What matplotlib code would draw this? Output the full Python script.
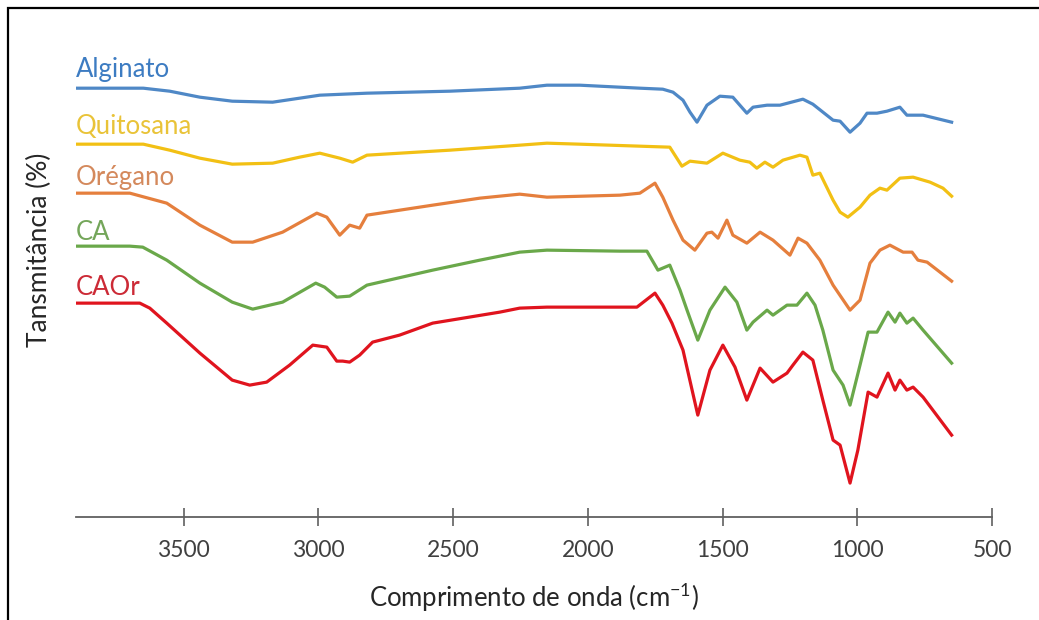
import matplotlib
matplotlib.use("Agg")
import matplotlib.pyplot as plt
from matplotlib.patches import Rectangle

plt.rcParams['font.family'] = ['Lato', 'DejaVu Sans']
plt.rcParams['mathtext.fontset'] = 'custom'
plt.rcParams['mathtext.rm'] = 'Lato'

# FTIR spectra (wavenumber cm-1, offset transmittance a.u.)
alg_w = [3900, 3650, 3552, 3440, 3320, 3170, 3070, 2995, 2820, 2512, 2253, 2152, 2030, 1881,
         1807, 1722, 1684, 1647, 1621, 1595, 1558, 1510, 1462, 1436, 1410, 1387, 1335, 1287,
         1202, 1165, 1090, 1064, 1027, 990, 964, 927, 890, 842, 816, 756, 650]
alg_t = [429, 429, 426, 420, 416, 415, 419, 422, 424, 426, 429, 432, 432, 430,
         429, 428, 425, 417, 405, 395, 412, 421, 420, 412, 404, 410, 412, 412,
         418, 413, 397, 396, 385, 394, 404, 404, 406, 410, 402, 402, 395]

qui_w = [3900, 3650, 3552, 3440, 3320, 3170, 3070, 2995, 2921, 2873, 2820, 2512, 2253, 2152,
         2030, 1807, 1696, 1651, 1621, 1558, 1499, 1436, 1399, 1373, 1343, 1313, 1276, 1213,
         1187, 1165, 1139, 1090, 1064, 1035, 990, 953, 916, 890, 842, 793, 730, 682, 650]
qui_t = [373, 373, 367, 359, 353, 354, 360, 364, 359, 355, 362, 367, 372, 374,
         373, 371, 370, 351, 356, 354, 364, 357, 355, 349, 355, 350, 357, 362,
         360, 342, 344, 317, 305, 300, 310, 322, 329, 327, 339, 340, 335, 329, 321]

ore_w = [3900, 3700, 3563, 3440, 3320, 3244, 3133, 3006, 2969, 2921, 2884, 2847, 2820, 2576,
         2401, 2253, 2152, 1881, 1807, 1751, 1722, 1684, 1647, 1603, 1558, 1540, 1517, 1484,
         1462, 1410, 1361, 1313, 1250, 1220, 1187, 1139, 1090, 1027, 990, 953, 916, 879,
         830, 797, 775, 741, 650]
ore_t = [324, 324, 314, 292, 275, 275, 285, 304, 300, 282, 292, 289, 302, 312,
         319, 323, 320, 322, 324, 334, 320, 297, 277, 267, 284, 285, 279, 297,
         282, 274, 285, 277, 262, 279, 274, 257, 232, 207, 217, 254, 267, 272,
         265, 265, 257, 255, 236]

ca_w = [3900, 3700, 3652, 3563, 3440, 3320, 3244, 3133, 3010, 2977, 2932, 2884, 2820, 2576,
        2401, 2253, 2152, 1881, 1781, 1740, 1696, 1658, 1632, 1592, 1547, 1491, 1447, 1410,
        1387, 1335, 1313, 1261, 1224, 1187, 1157, 1128, 1090, 1053, 1027, 990, 960, 927,
        886, 860, 842, 816, 793, 756, 650]
ca_t = [271, 271, 270, 257, 234, 215, 208, 215, 234, 230, 220, 221, 232, 247,
        257, 265, 267, 266, 266, 247, 252, 227, 207, 177, 207, 230, 215, 187,
        195, 207, 202, 212, 212, 224, 212, 187, 147, 132, 112, 152, 185, 185,
        205, 195, 204, 194, 199, 187, 154]

caor_w = [3900, 3663, 3626, 3563, 3440, 3320, 3255, 3192, 3107, 3021, 2969, 2932, 2910, 2884,
          2847, 2799, 2699, 2576, 2327, 2253, 2152, 1818, 1751, 1722, 1688, 1647, 1592, 1547,
          1499, 1454, 1410, 1361, 1313, 1261, 1239, 1202, 1165, 1128, 1090, 1064, 1027, 998,
          960, 927, 886, 860, 842, 816, 793, 756, 650]
caor_t = [214, 214, 209, 194, 164, 137, 132, 135, 152, 172, 170, 156, 156, 155,
          162, 175, 182, 194, 205, 209, 210, 210, 224, 212, 194, 167, 102, 147,
          172, 150, 117, 149, 135, 144, 152, 165, 157, 117, 77, 72, 34, 67,
          125, 120, 144, 127, 137, 127, 130, 120, 82]

series = [
    ('Alginato', alg_w, alg_t, '#4f88c6', '#3d7cc2', 440),
    ('Quitosana', qui_w, qui_t, '#f2c014', '#e9c338', 383),
    ('Orégano', ore_w, ore_t, '#e57f3d', '#d4895c', 332),
    ('CA', ca_w, ca_t, '#6aa84a', '#74a65a', 277),
    ('CAOr', caor_w, caor_t, '#e0141e', '#cc2a36', 222),
]

fig = plt.figure(figsize=(10.39, 6.2), dpi=100)
ax = fig.add_axes([0.0731, 0.166, 0.8817, 0.774])

for name, w, t, c, tc, ylab in series:
    ax.plot(w, t, color=c, lw=2.3, solid_joinstyle='round')
    ax.text(3900, ylab, name, color=tc, fontsize=18.5, va='baseline', ha='left')

ax.set_xlim(3900, 500)
ax.set_ylim(0, 480)
ax.set_xticks([3500, 3000, 2500, 2000, 1500, 1000, 500])
ax.set_yticks([])
for s in ['top', 'right', 'left']:
    ax.spines[s].set_visible(False)
ax.spines['bottom'].set_color('#606060')
ax.spines['bottom'].set_linewidth(1.3)
ax.tick_params(axis='x', direction='inout', length=13, width=1.2, color='#606060',
               labelsize=16.5, labelcolor='#404040', pad=10)
ax.set_xlabel(r'Comprimento de onda (cm$^{\mathregular{-1}}$)', fontsize=18.5, color='#262626',
              labelpad=14)
fig.text(0.038, 0.597, 'Tansmitância (%)', rotation=90, fontsize=19, color='#262626',
         ha='center', va='center')

# outer frame (only left and top edges visible in the reference)
fig.patches.append(Rectangle((8 / 1039, -0.1), 1.2, 1.1 - 8 / 620, transform=fig.transFigure,
                             fill=False, edgecolor='black', lw=1.6))

fig.savefig('out.png', dpi=100)
